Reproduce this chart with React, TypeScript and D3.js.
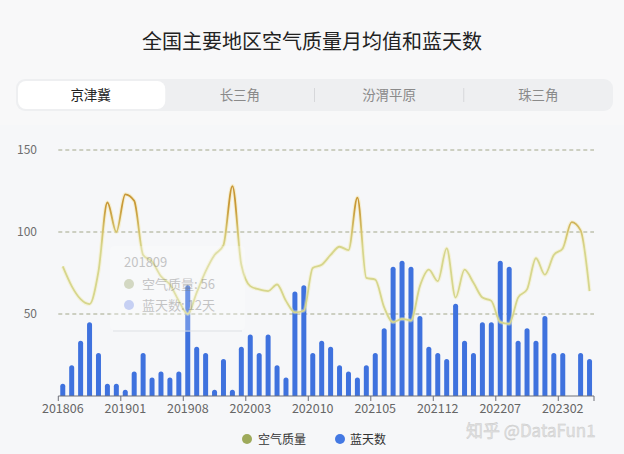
import React from "react";
import * as d3 from "d3";

const months: string[] = [
  "201806","201807","201808","201809","201810","201811","201812",
  "201901","201902","201903","201904","201905","201906","201907",
  "201908","201909","201910","201911","201912","202001","202002",
  "202003","202004","202005","202006","202007","202008","202009",
  "202010","202011","202012","202101","202102","202103","202104",
  "202105","202106","202107","202108","202109","202110","202111",
  "202112","202201","202202","202203","202204","202205","202206",
  "202207","202208","202209","202210","202211","202212","202301",
  "202302","202303","202304","202305",
];

// 空气质量 (monthly mean AQI)
const airQuality: number[] = [
  79, 67, 59, 56, 76, 118, 100, 123, 119, 86,
  82, 73, 68, 58, 50, 63, 76, 86, 92, 128,
  80, 67, 65, 64, 68, 58, 51, 52, 78, 80,
  86, 91, 89, 121, 72, 71, 54, 45, 47, 46,
  67, 77, 70, 90, 60, 77, 69, 60, 58, 45,
  44, 60, 65, 84, 74, 86, 90, 106, 101, 64,
];

// 蓝天数 (blue-sky days per month), null = missing
const blueDays: (number | null)[] = [
  2, 5, 9, 12, 7, 2, 2, 1, 4, 7,
  3, 4, 3, 4, 18, 8, 7, 1, 6, 1,
  8, 10, 7, 10, 5, 3, 17, 18, 7, 9,
  8, 5, 4, 3, 5, 7, 11, 21, 22, 21,
  13, 8, 7, 6, 15, 9, 7, 12, 12, 22,
  21, 9, 11, 9, 13, 7, 7, null, 7, 6,
];

const yTicks: number[] = [50, 100, 150];
const xLabelEvery = 7;
const tabs: string[] = ["京津冀", "长三角", "汾渭平原", "珠三角"];
const legendItems: string[] = ["空气质量", "蓝天数"];
const title = "全国主要地区空气质量月均值和蓝天数";
const tooltipMonth = "201809";

const W = 624;
const H = 454;
const FONT = '"Noto Sans CJK SC", "Noto Sans", sans-serif';

export default function App() {
  const left = 58.3;
  const right = 594;
  const top = 150;
  const bottom = 396;

  const x = d3.scaleBand<string>().domain(months).range([left, right]).padding(0);
  const y = d3.scaleLinear().domain([0, 150]).range([bottom, top]);
  const yDays = d3.scaleLinear().domain([0, 40]).range([bottom, top]);
  const bw = x.bandwidth();
  const cx = (m: string) => (x(m) as number) + bw / 2;

  const line = d3
    .line<number>()
    .x((_, i) => cx(months[i]))
    .y((d) => y(d))
    .curve(d3.curveMonotoneX);
  const linePath = line(airQuality) || "";

  const barW = 5;
  const r = 2.5;
  const barPath = (m: string, v: number) => {
    const x0 = cx(m) - barW / 2;
    const x1 = x0 + barW;
    const yt = yDays(v);
    const yb = bottom;
    return `M${x0},${yb} L${x0},${yt + r} Q${x0},${yt} ${x0 + r},${yt} L${x1 - r},${yt} Q${x1},${yt} ${x1},${yt + r} L${x1},${yb} Z`;
  };

  const tickIdx = months.map((_, i) => i).filter((i) => i % xLabelEvery === 0);

  const tabLeft = 16;
  const tabRight = 613;
  const tabW = (tabRight - tabLeft) / tabs.length;
  const tabTop = 79;
  const tabH = 32;

  const tipIdx = months.indexOf(tooltipMonth);

  return (
    <svg
      width={W}
      height={H}
      style={{ position: "absolute", left: 0, top: 0, fontFamily: FONT }}
    >
      <defs>
        <linearGradient id="aqiGrad" gradientUnits="userSpaceOnUse" x1="0" y1={y(150)} x2="0" y2={y(0)}>
          <stop offset={0} stopColor="#c48d2e" />
          <stop offset={(150 - 115) / 150} stopColor="#c99a38" />
          <stop offset={(150 - 100) / 150} stopColor="#d4c36e" />
          <stop offset={(150 - 90) / 150} stopColor="#d6d68c" />
          <stop offset={1} stopColor="#d6d68c" />
        </linearGradient>
        <linearGradient id="glowGrad" gradientUnits="userSpaceOnUse" x1="0" y1={y(150)} x2="0" y2={y(0)}>
          <stop offset={0} stopColor="#f6d77a" />
          <stop offset={(150 - 100) / 150} stopColor="#f3e7a6" />
          <stop offset={1} stopColor="#f0f2cc" />
        </linearGradient>
      </defs>
      <rect x={0} y={0} width={W} height={H} fill="#f6f7f9" />
      <rect x={0} y={0} width={W} height={125} fill="#f8f8f9" />

      {/* title */}
      <text x={W / 2} y={49} textAnchor="middle" fontSize={20} fill="#222">
        {title}
      </text>

      {/* tabs */}
      <rect x={tabLeft} y={tabTop} width={tabRight - tabLeft} height={tabH} rx={9} fill="#eeeff1" />
      <rect x={tabLeft + 2} y={tabTop + 2} width={tabW - 2} height={tabH - 4} rx={8} fill="#ffffff" />
      {tabs.map((t, i) => (
        <g key={t}>
          {i >= 2 && (
            <line
              x1={tabLeft + tabW * (i - 1) + tabW}
              x2={tabLeft + tabW * (i - 1) + tabW}
              y1={tabTop + 9}
              y2={tabTop + tabH - 9}
              stroke="#d6d7da"
            />
          )}
          <text
            x={tabLeft + tabW * i + tabW / 2}
            y={tabTop + tabH / 2 + 5}
            textAnchor="middle"
            fontSize={13.5}
            fill={i === 0 ? "#222" : "#8a8a8a"}
          >
            {t}
          </text>
        </g>
      ))}

      {/* grid lines */}
      {yTicks.map((t) => (
        <g key={t}>
          <line x1={left} x2={right} y1={y(t)} y2={y(t)} stroke="#a3a78a" strokeDasharray="4,3" strokeWidth={1} />
          <text x={37} y={y(t) + 4} textAnchor="end" fontSize={12} fill="#6e6e6e">
            {t}
          </text>
        </g>
      ))}

      {/* bars */}
      {months.map((m, i) => {
        const v = blueDays[i];
        if (v == null || v <= 0) return null;
        return <path key={m} d={barPath(m, v)} fill="#3f72de" />;
      })}

      {/* line */}
      <path d={linePath} fill="none" stroke="url(#glowGrad)" strokeWidth={4} strokeOpacity={0.4} strokeLinejoin="round" />
      <path d={linePath} fill="none" stroke="url(#aqiGrad)" strokeWidth={1.8} strokeLinejoin="round" />

      {/* x axis */}
      <line x1={left} x2={right} y1={bottom} y2={bottom} stroke="#6e7079" />
      {tickIdx.map((i) => (
        <g key={i}>
          <line x1={x(months[i]) as number} x2={x(months[i]) as number} y1={bottom} y2={bottom + 5} stroke="#6e7079" />
          <text x={cx(months[i])} y={413} textAnchor="middle" fontSize={12.5} fill="#666">
            {months[i]}
          </text>
        </g>
      ))}
      <line x1={right} x2={right} y1={bottom} y2={bottom + 5} stroke="#6e7079" />

      {/* faded tooltip */}
      <g opacity={0.55}>
        <rect x={110} y={246} width={135} height={84} rx={4} fill="#ffffff" opacity={0.45} />
        <line x1={113} x2={242} y1={331} y2={331} stroke="#e2e4e8" strokeWidth={2} />
        <text x={124} y={267} fontSize={13} fill="#9a9a9a">
          {tooltipMonth}
        </text>
        <circle cx={129} cy={284} r={5} fill="#b8bf96" />
        <text x={142} y={289} fontSize={13} fill="#9a9a9a">
          {`空气质量: ${airQuality[tipIdx]}`}
        </text>
        <circle cx={129} cy={305} r={5} fill="#9fb2ef" />
        <text x={142} y={310} fontSize={13} fill="#9a9a9a">
          {`蓝天数: ${blueDays[tipIdx]}天`}
        </text>
      </g>

      {/* legend */}
      <circle cx={247} cy={439} r={5} fill="#9eaa5b" />
      <text x={258} y={443.5} fontSize={12} fill="#333">
        {legendItems[0]}
      </text>
      <circle cx={340} cy={439} r={5} fill="#4479e3" />
      <text x={350} y={443.5} fontSize={12} fill="#333">
        {legendItems[1]}
      </text>

      {/* watermark */}
      <text x={466} y={437} fontSize={17} fill="#e2e2e2" stroke="#c9c9c9" strokeWidth={0.4}>
        知乎 @DataFun1
      </text>
    </svg>
  );
}
